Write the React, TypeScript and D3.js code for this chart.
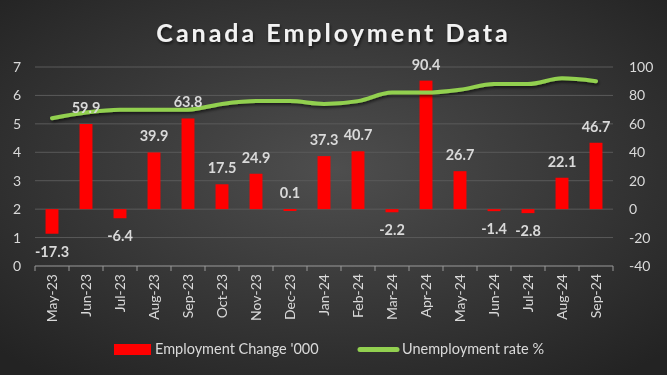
import React from 'react';
import * as d3 from 'd3';

const months = ['May-23', 'Jun-23', 'Jul-23', 'Aug-23', 'Sep-23', 'Oct-23', 'Nov-23', 'Dec-23', 'Jan-24', 'Feb-24', 'Mar-24', 'Apr-24', 'May-24', 'Jun-24', 'Jul-24', 'Aug-24', 'Sep-24'];
const employmentChange = [-17.3, 59.9, -6.4, 39.9, 63.8, 17.5, 24.9, 0.1, 37.3, 40.7, -2.2, 90.4, 26.7, -1.4, -2.8, 22.1, 46.7];
const unemploymentRate = [5.2, 5.4, 5.5, 5.5, 5.5, 5.7, 5.8, 5.8, 5.7, 5.8, 6.1, 6.1, 6.2, 6.4, 6.4, 6.6, 6.5];
const leftTicks = [0, 1, 2, 3, 4, 5, 6, 7];
const rightTicks = [-40, -20, 0, 20, 40, 60, 80, 100];

const W = 667;
const H = 375;
const font = 'Lato, "Open Sans", sans-serif';
const textColor = '#d9d9d9';

const App = () => {
    const margin = { top: 67, right: 54, bottom: 109, left: 35 };
    const plotBottom = H - margin.bottom;

    const x = d3.scaleBand()
        .domain(months)
        .range([margin.left, W - margin.right])
        .paddingInner(0.62)
        .paddingOuter(0.31);

    const yLeft = d3.scaleLinear().domain([0, 7]).range([plotBottom, margin.top]);
    const yRight = d3.scaleLinear().domain([-40, 100]).range([plotBottom, margin.top]);

    const step = x.step();
    const line = d3.line()
        .x((d, i) => x(months[i]) + x.bandwidth() / 2)
        .y(d => yLeft(d))
        .curve(d3.curveMonotoneX);

    const boundaries = d3.range(months.length + 1).map(i => margin.left + i * step);

    return (
        <div style={{ position: 'fixed', left: 0, top: 0 }}>
            <svg width={W} height={H} style={{ display: 'block' }}>
                <defs>
                    <radialGradient id="bg" cx="50%" cy="45%" r="70%">
                        <stop offset="0%" stopColor="#4e4e4e" />
                        <stop offset="100%" stopColor="#232323" />
                    </radialGradient>
                    <filter id="shadow" x="-10%" y="-30%" width="120%" height="160%">
                        <feDropShadow dx="1" dy="2" stdDeviation="1.5" floodColor="#000" floodOpacity="0.6" />
                    </filter>
                </defs>
                <rect width={W} height={H} fill="url(#bg)" />

                <text x={W / 2} y={42} textAnchor="middle" fill="#f2f2f2"
                    style={{ fontFamily: font, fontWeight: 700, fontSize: 25, letterSpacing: 3 }}
                    filter="url(#shadow)">Canada Employment Data</text>

                {leftTicks.filter(t => t > 0).map(t => (
                    <line key={t} x1={margin.left} x2={W - margin.right} y1={yLeft(t)} y2={yLeft(t)}
                        stroke="#5a5a5a" strokeWidth={1} />
                ))}

                {leftTicks.map(t => (
                    <text key={t} x={21} y={yLeft(t) + 5} textAnchor="end" fill={textColor}
                        style={{ fontFamily: font, fontSize: 14 }}>{t}</text>
                ))}
                {rightTicks.map(t => (
                    <text key={t} x={629} y={yRight(t) + 5} textAnchor="start" fill={textColor}
                        style={{ fontFamily: font, fontSize: 14 }}>{t}</text>
                ))}

                <line x1={margin.left} x2={W - margin.right} y1={plotBottom} y2={plotBottom} stroke="#9a9a9a" strokeWidth={1} />
                {boundaries.map((bx, i) => (
                    <line key={i} x1={bx} x2={bx} y1={plotBottom} y2={plotBottom + 5} stroke="#9a9a9a" strokeWidth={1} />
                ))}

                {employmentChange.map((v, i) => {
                    const y0 = yRight(0);
                    const y1 = yRight(v);
                    return (
                        <rect key={months[i]} x={x(months[i])} width={x.bandwidth()}
                            y={Math.min(y0, y1)} height={Math.max(Math.abs(y1 - y0), 2)} fill="#ff0000" />
                    );
                })}

                <path d={line(unemploymentRate)} fill="none" stroke="#92d050" strokeWidth={4}
                    strokeLinecap="round" strokeLinejoin="round" filter="url(#shadow)" />

                {employmentChange.map((v, i) => {
                    const cx = x(months[i]) + x.bandwidth() / 2;
                    const ly = v >= 0 ? yRight(v) - 11 : yRight(v) + 23;
                    return (
                        <text key={months[i]} x={cx} y={ly} textAnchor="middle" fill={textColor}
                            style={{ fontFamily: font, fontSize: 14.5, fontWeight: 700 }}>{v.toFixed(1)}</text>
                    );
                })}

                {months.map(m => {
                    const cx = x(m) + x.bandwidth() / 2;
                    return (
                        <text key={m} transform={`translate(${cx + 5},${plotBottom + 8}) rotate(-90)`}
                            textAnchor="end" fill={textColor}
                            style={{ fontFamily: font, fontSize: 14 }}>{m}</text>
                    );
                })}

                <g style={{ fontFamily: font, fontSize: 14.5 }} fill={textColor}>
                    <rect x={114} y={344} width={37} height={11} fill="#ff0000" />
                    <text x={155} y={354}>Employment Change '000</text>
                    <line x1={360} x2={397} y1={349.5} y2={349.5} stroke="#92d050" strokeWidth={5} strokeLinecap="round" />
                    <text x={402} y={354}>Unemployment rate %</text>
                </g>
            </svg>
        </div>
    );
};

export default App;
